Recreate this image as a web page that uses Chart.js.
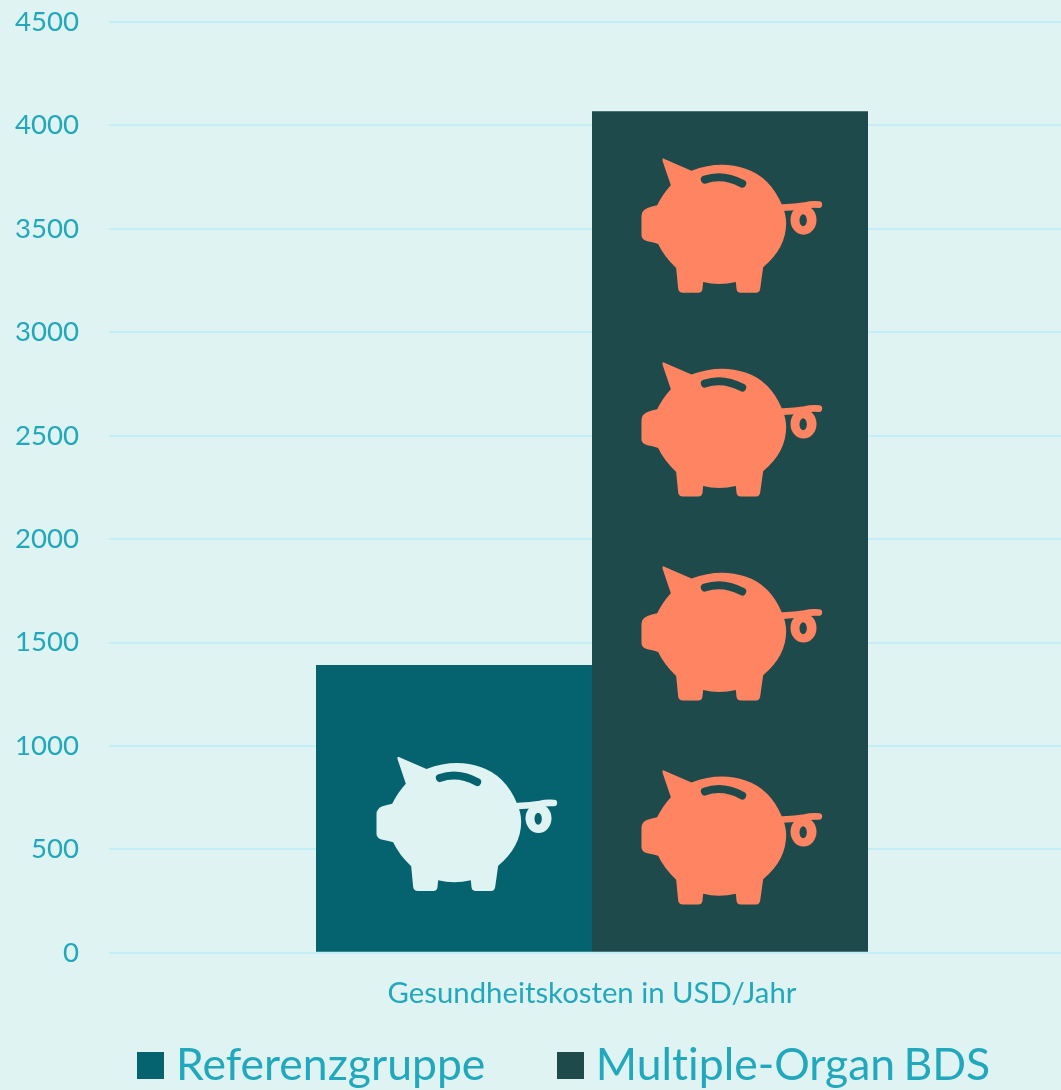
<!DOCTYPE html>
<html lang="de">
<head>
<meta charset="utf-8">
<title>Gesundheitskosten</title>
<script src="https://cdn.jsdelivr.net/npm/chart.js@4"></script>
<style>
  html, body { margin: 0; width: 1061px; height: 1090px; overflow: hidden; background: #e0f3f3; }
  #wrap { position: relative; width: 1061px; height: 1090px; overflow: hidden; }
  #costChart { position: absolute; left: 0; top: 0; }
  #legend { position: absolute; left: 137px; top: 1035px; display: flex; font: 44.5px Lato, sans-serif; word-spacing: -3px; font-variant-ligatures: none; color: #22a8bc; white-space: nowrap; }
  #legend span.item { display: flex; align-items: center; margin-right: 71.5px; line-height: 56px; }
  #legend i { display: block; width: 27px; height: 27px; margin-right: 12px; margin-top: 4px; }
</style>
</head>
<body>
<div id="wrap">
  <canvas id="costChart" width="1075" height="1090"></canvas>
  <div id="legend"></div>
</div>
<script>
const categories = ["Gesundheitskosten in USD/Jahr"];
const referenceCosts = [1392];
const multipleOrganCosts = [4069];
const referencePigs = [1];
const multipleOrganPigs = [4];
const yTicks = [0, 500, 1000, 1500, 2000, 2500, 3000, 3500, 4000, 4500];

const TEXT = "#22a8bc";

// piggy bank outline, 542 x 404 units
const pigBody = new Path2D(
  "M67 2 Q62 -2 63 8 L88 82 Q64 108 47 142 Q30 146 18 150 Q0 157 0 174 L0 232 " +
  "Q0 246 18 250 Q38 254 50 258 Q68 296 104 330 L110 392 Q112 404 124 404 L170 404 " +
  "Q182 404 183 392 L185 372 Q232 384 283 372 L285 392 Q286 404 298 404 L344 404 " +
  "Q354 404 356 392 L365 328 Q434 270 434 196 Q434 170 422 142 Q386 56 312 32 " +
  "Q236 6 150 38 Z"
);
const pigTail = new Path2D("M424 149 Q462 147 490 143 Q510 138 532 140");
const pigRing = new Path2D();
pigRing.ellipse(486, 186, 39, 44, 0, 0, Math.PI * 2);
const pigRingHole = new Path2D();
pigRingHole.ellipse(485, 187, 11, 18, 0, 0, Math.PI * 2);
const pigSlot = new Path2D("M190 65 Q244 46 302 77");

// repeats the pig icon up each bar, spaced by value so it follows the y scale
const pigIcons = {
  id: "pigIcons",
  afterDatasetsDraw(chart) {
    const { ctx, scales } = chart;
    const step = scales.y.getPixelForValue(0) - scales.y.getPixelForValue(986);
    chart.data.datasets.forEach((ds, i) => {
      const bar = chart.getDatasetMeta(i).data[0];
      for (let n = 0; n < ds.pigs[0]; n++) {
        ctx.save();
        ctx.translate(bar.x - bar.width / 2 + ds.pigLeft, scales.y.bottom - ds.pigLift - n * step - 135);
        ctx.scale(1 / 3, 1 / 3);
        ctx.fillStyle = ds.pigColor;
        ctx.strokeStyle = ds.pigColor;
        ctx.fill(pigBody);
        ctx.fill(pigRing);
        ctx.lineCap = "round";
        ctx.lineWidth = 20;
        ctx.stroke(pigTail);
        ctx.fillStyle = ds.backgroundColor;
        ctx.fill(pigRingHole);
        ctx.strokeStyle = ds.backgroundColor;
        ctx.lineWidth = 24;
        ctx.stroke(pigSlot);
        ctx.restore();
      }
    });
  },
};

const chart = new Chart(document.getElementById("costChart").getContext("2d"), {
  type: "bar",
  plugins: [pigIcons],
  data: {
    labels: categories,
    datasets: [
      {
        label: "Referenzgruppe",
        data: referenceCosts,
        backgroundColor: "#05636f",
        barPercentage: 1,
        categoryPercentage: 552 / 966,
        pigs: referencePigs,
        pigColor: "#e0f3f3",
        pigLeft: 60.5,
        pigLift: 61.5,
      },
      {
        label: "Multiple-Organ BDS",
        data: multipleOrganCosts,
        backgroundColor: "#1f4a4b",
        barPercentage: 1,
        categoryPercentage: 552 / 966,
        pigs: multipleOrganPigs,
        pigColor: "#ff8562",
        pigLeft: 49.5,
        pigLift: 48,
      },
    ],
  },
  options: {
    responsive: false,
    animation: false,
    layout: { padding: { top: 22, bottom: 64 } },
    plugins: {
      legend: { display: false },
      tooltip: { enabled: false },
    },
    scales: {
      x: {
        border: { display: false },
        grid: { display: false },
        ticks: { color: TEXT, padding: 15, font: { family: "Lato", size: 29.3 } },
      },
      y: {
        min: 0,
        max: 4500,
        afterFit(scale) {
          scale.width = 109;
          scale.paddingTop = 0;
          scale.paddingBottom = 0;
        },
        afterBuildTicks(scale) {
          scale.ticks = yTicks.map((value) => ({ value }));
        },
        border: { display: false },
        grid: { color: "#c4eef5", lineWidth: 2, drawTicks: false },
        ticks: {
          color: TEXT,
          padding: 30,
          font: { family: "Lato", size: 27.6 },
          callback: (value) => String(value),
        },
      },
    },
  },
});

// legend sits under the canvas text so the swatch spacing can be set directly
const legend = document.getElementById("legend");
chart.data.datasets.forEach((ds) => {
  const item = document.createElement("span");
  item.className = "item";
  item.innerHTML = `<i style="background:${ds.backgroundColor}"></i>${ds.label}`;
  legend.appendChild(item);
});
</script>
</body>
</html>
